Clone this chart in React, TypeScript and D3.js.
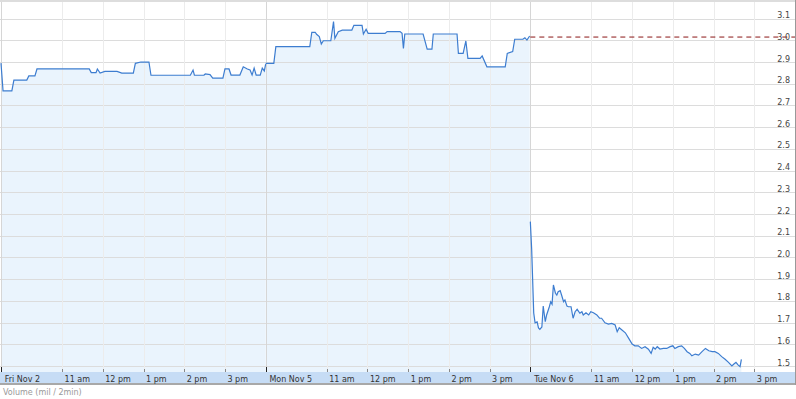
import React, { useEffect } from "react";
import * as d3 from "d3";

// ---- data (minutes since the 9:30 open, price) ----
const dayLabels = ["Fri Nov 2", "Mon Nov 5", "Tue Nov 6"];
const hourLabels = ["11 am", "12 pm", "1 pm", "2 pm", "3 pm"];
const hourOffsets = [90, 150, 210, 270, 330];
const priceTicks = [1.5, 1.6, 1.7, 1.8, 1.9, 2.0, 2.1, 2.2, 2.3, 2.4, 2.5, 2.6, 2.7, 2.8, 2.9, 3.0, 3.1];
const prevClose = 3.015;

const day1: [number, number][] = [
  [0, 2.895], [3, 2.767], [16, 2.767], [19, 2.817], [38, 2.817], [41, 2.836], [50, 2.836],
  [53, 2.868], [130, 2.868], [133, 2.851], [140, 2.851], [142, 2.868], [146, 2.849],
  [153, 2.857], [171, 2.857], [178, 2.849], [195, 2.849], [198, 2.894], [206, 2.9],
  [218, 2.9], [221, 2.839], [279, 2.839], [283, 2.863], [285, 2.839], [299, 2.839],
  [301, 2.845], [308, 2.842], [312, 2.826], [327, 2.826], [330, 2.868], [336, 2.868],
  [339, 2.84], [352, 2.84], [357, 2.878], [363, 2.868], [367, 2.863], [370, 2.84],
  [373, 2.872], [376, 2.84], [382, 2.84], [385, 2.872], [388, 2.859], [390, 2.89],
];

const day2: [number, number][] = [
  [0, 2.894], [12, 2.894], [15, 2.971], [65, 2.971], [68, 3.037], [73, 3.037], [75, 3.028],
  [79, 3.017], [82, 2.983], [85, 2.998], [96, 2.998], [100, 3.086], [102, 3.009],
  [107, 3.04], [113, 3.047], [127, 3.047], [130, 3.069], [142, 3.069], [144, 3.029],
  [148, 3.051], [151, 3.032], [176, 3.032], [179, 3.04], [198, 3.04], [201, 3.032],
  [203, 2.963], [205, 3.029], [232, 3.029], [235, 2.994], [238, 2.959], [245, 2.959],
  [247, 3.029], [282, 3.029], [284, 2.94], [291, 2.94], [295, 2.997], [298, 2.917],
  [316, 2.917], [319, 2.928], [326, 2.878], [353, 2.878], [356, 2.94], [364, 2.948],
  [367, 3.005], [379, 3.005], [382, 3.012], [385, 3.001], [389, 3.02],
];

const day3: [number, number][] = [
  [0, 2.165], [2, 2.035], [5, 1.744], [7, 1.699], [10, 1.703], [12, 1.675], [14, 1.669],
  [17, 1.68], [19, 1.776], [22, 1.704], [24, 1.735], [28, 1.773], [30, 1.796], [32, 1.785],
  [34, 1.873], [37, 1.835], [39, 1.827], [41, 1.842], [44, 1.847], [46, 1.827], [49, 1.796],
  [51, 1.804], [54, 1.776], [56, 1.773], [60, 1.773], [63, 1.72], [66, 1.75], [69, 1.761],
  [73, 1.743], [76, 1.75], [78, 1.735], [82, 1.745], [86, 1.735], [89, 1.75], [93, 1.745],
  [98, 1.735], [102, 1.72], [105, 1.72], [110, 1.699], [115, 1.693], [120, 1.696],
  [125, 1.689], [128, 1.658], [131, 1.676], [135, 1.666], [140, 1.653], [145, 1.627],
  [150, 1.601], [154, 1.593], [159, 1.593], [164, 1.581], [169, 1.589], [174, 1.577],
  [178, 1.558], [181, 1.586], [184, 1.578], [187, 1.589], [191, 1.578], [196, 1.581],
  [201, 1.581], [206, 1.589], [210, 1.593], [213, 1.581], [218, 1.589], [223, 1.593],
  [227, 1.581], [231, 1.566], [235, 1.558], [238, 1.547], [243, 1.555], [248, 1.55],
  [253, 1.566], [258, 1.581], [263, 1.57], [268, 1.566], [272, 1.566], [277, 1.558],
  [282, 1.543], [287, 1.531], [292, 1.517], [297, 1.5], [300, 1.509], [303, 1.517],
  [306, 1.505], [309, 1.497], [311, 1.531],
];

const days = [day1, day2, day3];
const DAY_MIN = 390;

export default function App() {
  useEffect(() => {
    document.body.style.margin = "0";
  }, []);

  const W = 796;
  const H = 399;
  const plotBottom = 372;
  const x = d3.scaleLinear().domain([0, DAY_MIN * 3]).range([1, 795]);
  const y = d3.scaleLinear().domain([1.5, 3.1]).range([366, 18.6]);

  const font = "'DejaVu Sans', Verdana, sans-serif";

  const area = d3
    .area<[number, number]>()
    .x((d) => x(d[0]))
    .y0(plotBottom)
    .y1((d) => y(d[1]));
  const line = d3
    .line<[number, number]>()
    .x((d) => x(d[0]))
    .y((d) => y(d[1]));

  const series = days.map((d, i) => d.map(([m, v]) => [m + i * DAY_MIN, v] as [number, number]));
  const hourTicks: { m: number; label: string }[] = [];
  days.forEach((_, i) => {
    hourOffsets.forEach((h, j) => hourTicks.push({ m: i * DAY_MIN + h, label: hourLabels[j] }));
  });
  const dayTicks = dayLabels.map((l, i) => ({ m: i * DAY_MIN, label: l }));

  return (
    <svg width={W} height={H} style={{ position: "absolute", left: 0, top: 0, display: "block" }}>
      <rect x={0} y={0} width={W} height={H} fill="#fff" />
      {/* fills */}
      {series.map((s, i) => (
        <path key={"a" + i} d={area(s) || ""} fill="#eaf4fd" />
      ))}
      {/* horizontal grid */}
      {priceTicks.map((t) => (
        <line key={"h" + t} x1={0} x2={795} y1={Math.round(y(t)) + 0.5} y2={Math.round(y(t)) + 0.5} stroke="#dcdcdc" />
      ))}
      {/* vertical grid */}
      {hourTicks.map((t) => (
        <line key={"v" + t.m} x1={Math.round(x(t.m)) + 0.5} x2={Math.round(x(t.m)) + 0.5} y1={2} y2={plotBottom} stroke="#ececec" />
      ))}
      {dayTicks.map((t) => (
        <line key={"dv" + t.m} x1={Math.round(x(t.m)) + 0.5} x2={Math.round(x(t.m)) + 0.5} y1={2} y2={plotBottom} stroke="#d6d6d6" />
      ))}
      {/* top border */}
      <line x1={0} x2={W} y1={1} y2={1} stroke="#dddddd" strokeWidth={2} />
      {/* previous close */}
      <line x1={x(DAY_MIN * 2)} x2={795} y1={y(prevClose)} y2={y(prevClose)} stroke="#8b1414" strokeWidth={1} strokeDasharray="5,4" />
      {/* price line */}
      {series.map((s, i) => (
        <path key={"l" + i} d={line(s) || ""} fill="none" stroke="#3d7dd0" strokeWidth={1.2} />
      ))}
      {/* right axis labels */}
      {priceTicks.map((t) => (
        <text key={"yl" + t} x={790} y={y(t) - 0.5} textAnchor="end" fontFamily={font} fontSize={8} fill="#444">
          {t.toFixed(1)}
        </text>
      ))}
      {/* bottom band */}
      <rect x={0} y={plotBottom} width={W} height={11} fill="#c6dcf5" />
      <line x1={0} x2={W} y1={384} y2={384} stroke="#a8a8a8" strokeWidth={2} />
      {hourTicks.map((t) => (
        <line key={"ht" + t.m} x1={Math.round(x(t.m)) + 0.5} x2={Math.round(x(t.m)) + 0.5} y1={369} y2={plotBottom} stroke="#888" />
      ))}
      {dayTicks.map((t) => (
        <line key={"dt" + t.m} x1={Math.round(x(t.m)) + 0.5} x2={Math.round(x(t.m)) + 0.5} y1={367} y2={plotBottom} stroke="#222" />
      ))}
      {hourTicks.map((t) => (
        <text key={"htl" + t.m} x={x(t.m) + 2.5} y={381.5} fontFamily={font} fontSize={8} fill="#333">
          {t.label}
        </text>
      ))}
      {dayTicks.map((t) => (
        <text key={"dtl" + t.m} x={x(t.m) + 3.8} y={381.5} fontFamily={font} fontSize={8} fill="#333">
          {t.label}
        </text>
      ))}
      {/* right border */}
      <line x1={795.5} x2={795.5} y1={0} y2={385} stroke="#999" />
      <text x={3} y={395} fontFamily={font} fontSize={8} fill="#999">
        Volume (mil / 2min)
      </text>
    </svg>
  );
}
